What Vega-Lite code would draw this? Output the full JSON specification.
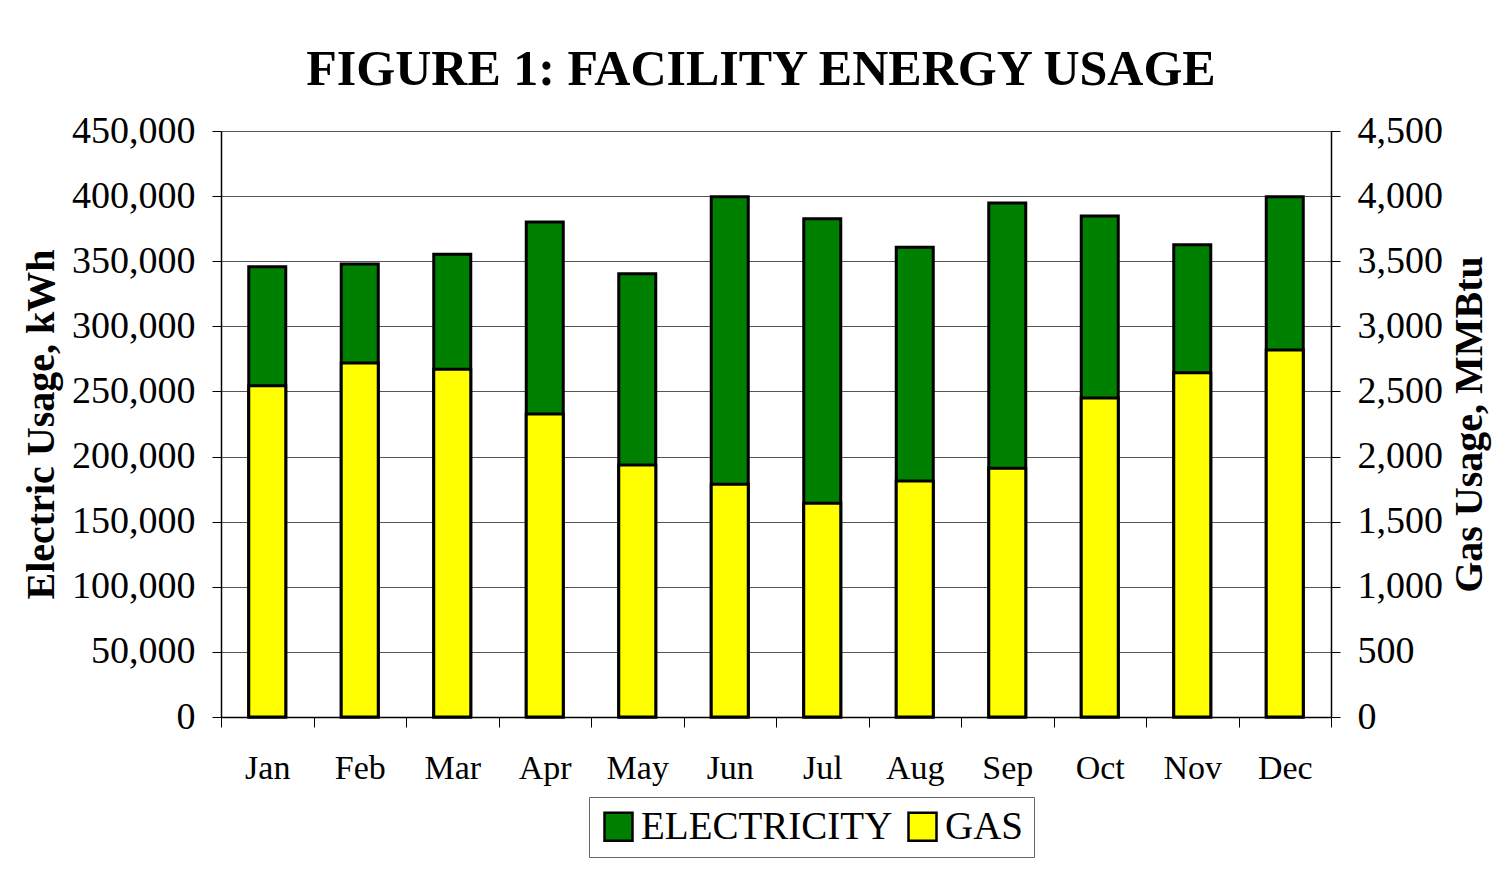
{
  "$schema": "https://vega.github.io/schema/vega-lite/v6.json",
  "autosize": {"type": "none"},
  "width": 1110,
  "height": 586,
  "padding": {"left": 221, "top": 131, "right": 166, "bottom": 152},
  "background": "white",
  "config": {"font": "Liberation Serif", "view": {"stroke": null}},
  "title": {
    "text": "FIGURE 1: FACILITY ENERGY USAGE",
    "font": "Liberation Serif",
    "fontSize": 50,
    "fontWeight": "bold",
    "color": "black",
    "anchor": "middle",
    "frame": "group",
    "baseline": "alphabetic",
    "offset": 44,
    "dx": -15,
    "dy": 67
  },
  "data": {
    "values": [
      {"month": "Jan", "electricity": 345800, "gas": 2544},
      {"month": "Feb", "electricity": 347900, "gas": 2718},
      {"month": "Mar", "electricity": 355300, "gas": 2670},
      {"month": "Apr", "electricity": 380100, "gas": 2327},
      {"month": "May", "electricity": 340400, "gas": 1935},
      {"month": "Jun", "electricity": 399500, "gas": 1787},
      {"month": "Jul", "electricity": 382700, "gas": 1641},
      {"month": "Aug", "electricity": 360700, "gas": 1812},
      {"month": "Sep", "electricity": 394700, "gas": 1910},
      {"month": "Oct", "electricity": 384700, "gas": 2450},
      {"month": "Nov", "electricity": 362700, "gas": 2644},
      {"month": "Dec", "electricity": 399500, "gas": 2818}
    ]
  },
  "encoding": {
    "x": {
      "field": "month",
      "type": "nominal",
      "sort": ["Jan","Feb","Mar","Apr","May","Jun","Jul","Aug","Sep","Oct","Nov","Dec"],
      "scale": {"paddingInner": 0, "paddingOuter": 0},
      "axis": {
        "title": null,
        "labelAngle": 0,
        "labelFont": "Liberation Serif",
        "labelFontSize": 34,
        "labelColor": "black",
        "labelPadding": 24,
        "tickSize": 10,
        "tickBand": "extent",
        "tickColor": "black",
        "tickWidth": 1,
        "domainColor": "black",
        "domainWidth": 1.5,
        "grid": false
      }
    }
  },
  "layer": [
    {
      "mark": {"type": "bar", "width": 37, "stroke": "black", "strokeWidth": 3},
      "encoding": {
        "y": {
          "field": "electricity",
          "type": "quantitative",
          "scale": {"domain": [0, 450000], "nice": false},
          "axis": {
            "title": "Electric Usage, kWh",
            "titleFont": "Liberation Serif",
            "titleFontSize": 40,
            "titleFontWeight": "bold",
            "titleColor": "black",
            "titlePadding": 10,
            "labelFont": "Liberation Serif",
            "labelFontSize": 38,
            "labelColor": "black",
            "labelPadding": 17,
            "tickSize": 9,
            "tickColor": "black",
            "tickWidth": 1,
            "domainColor": "black",
            "domainWidth": 1.5,
            "grid": true,
            "gridColor": "#555555",
            "gridWidth": 1,
            "format": ",d",
            "values": [0, 50000, 100000, 150000, 200000, 250000, 300000, 350000, 400000, 450000]
          }
        },
        "color": {
          "datum": "ELECTRICITY",
          "type": "nominal",
          "scale": {"domain": ["ELECTRICITY", "GAS"], "range": ["#008000", "#FFFF00"]},
          "legend": {
            "title": null,
            "orient": "none",
            "legendX": 368,
            "legendY": 666,
            "direction": "horizontal",
            "symbolType": "square",
            "symbolSize": 784,
            "symbolStrokeColor": "black",
            "symbolStrokeWidth": 2.5,
            "labelFont": "Liberation Serif",
            "labelFontSize": 39,
            "labelColor": "black",
            "labelOffset": 3,
            "labelLimit": 400,
            "columnPadding": 10,
            "padding": 10,
            "strokeColor": "#666666",
            "fillColor": "white"
          }
        }
      }
    },
    {
      "mark": {"type": "bar", "width": 37, "stroke": "black", "strokeWidth": 3},
      "encoding": {
        "y": {
          "field": "gas",
          "type": "quantitative",
          "scale": {"domain": [0, 4500], "nice": false},
          "axis": {
            "orient": "right",
            "title": "Gas Usage, MMBtu",
            "titleAngle": 270,
            "titleFont": "Liberation Serif",
            "titleFontSize": 40,
            "titleFontWeight": "bold",
            "titleColor": "black",
            "titlePadding": 47,
            "labelFont": "Liberation Serif",
            "labelFontSize": 38,
            "labelColor": "black",
            "labelPadding": 17,
            "tickSize": 9,
            "tickColor": "black",
            "tickWidth": 1,
            "domainColor": "black",
            "domainWidth": 1.5,
            "grid": false,
            "format": ",d",
            "values": [0, 500, 1000, 1500, 2000, 2500, 3000, 3500, 4000, 4500]
          }
        },
        "color": {"datum": "GAS", "type": "nominal"}
      }
    }
  ],
  "resolve": {"scale": {"y": "independent"}}
}
